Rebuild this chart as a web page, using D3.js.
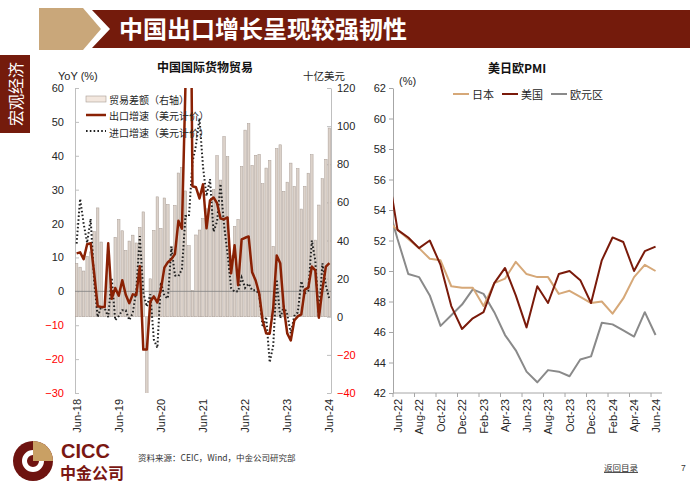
<!DOCTYPE html>
<html><head><meta charset="utf-8">
<script src="https://cdn.jsdelivr.net/npm/d3@7"></script>
<style>
body{margin:0;background:#fff;}
svg{display:block;font-family:"Liberation Sans","Noto Sans CJK SC",Arial,sans-serif;}
</style></head><body><svg id="c" width="700" height="490"></svg>
<script>
// ---------------- DATA ----------------
const headerTitle = "中国出口增长呈现较强韧性";
const sideLabel = "宏观经济";
const leftTitle = "中国国际货物贸易";
const rightTitle = "美日欧PMI";
const tradeMonths = d3.timeMonth.range(new Date(2018,5,1), new Date(2024,6,1)).map(d3.timeFormat("%b-%y"));
const tradeTickLabels = ["Jun-18","Jun-19","Jun-20","Jun-21","Jun-22","Jun-23","Jun-24"];
const leftTicks = [-30,-20,-10,0,10,20,30,40,50,60];
const rightTicks = [-40,-20,0,20,40,60,80,100,120];
// trade balance, USD bn (right axis)
const tradeBalance = [
  28.0, 26.0, 24.0, 31.7, 34.0, 44.7, 57.1,
  39.2, 4.1, 32.7, 13.8, 41.7, 51.0, 45.1, 34.8, 39.7, 42.8, 38.7, 46.8,
  55.0, -62.0, 19.9, 45.3, 62.9, 46.4, 62.3, 58.9, 37.0, 58.4, 75.4, 78.2,
  66.0, 37.3, 13.8, 42.9, 45.5, 51.5, 56.6, 58.3, 66.8, 84.5, 71.7, 94.5,
  84.0, 31.9, 47.4, 51.1, 78.8, 97.9, 101.3, 79.4, 84.7, 85.2, 69.8, 78.0,
  82.0, 36.9, 88.2, 90.2, 65.8, 70.6, 80.6, 68.4, 77.7, 56.5, 68.4, 75.3,
  85.0, 40.2, 58.6, 72.4, 82.6, 99.0
];
// export growth YoY %
const exportYoY = [
  11.2, 11.5, 9.5, 13.9, 14.2, 5.4, -4.4,
  -4.6, -4.6, 14.2, -2.2, 1.0, -1.3, 3.3, -1.0, -3.5, -0.9, -1.1, 7.4,
  -17.2, -17.2, -3.0, -1.5, -3.3, 0.5, 7.0, 8.6, 9.5, 11.0, 20.8, 18.5,
  60.6, 154.9, 31.0, 30.7, 27.4, 31.6, 18.6, 26.8, 27.7, 26.0, 21.5, 21.3,
  21.8, 5.3, 13.6, 1.8, 15.3, 15.8, 16.2, 5.6, 3.2, -0.6, -8.6, -12.4,
  -12.5, -5.0, 10.6, 8.3, -4.8, -12.4, -14.5, -8.6, -7.4, -6.8, 0.5, 1.1,
  7.3, 6.2, -7.8, 0.5, 7.3, 8.3
];
// import growth YoY %
const importYoY = [
  14.1, 27.3, 20.0, 14.3, 21.4, 3.0, -7.6,
  -4.5, -5.0, -7.6, 4.0, -8.5, -7.3, -5.6, -5.6, -8.5, -6.4, 0.3, 16.3,
  -0.5, -4.5, -0.9, -14.2, -16.7, 2.7, -1.4, -2.1, 13.2, 4.7, 4.5, 6.5,
  22.2, 22.2, 38.1, 43.1, 51.1, 36.7, 28.1, 33.1, 17.6, 20.6, 31.7, 19.5,
  11.0, 1.0, -0.1, 0.0, 4.1, 1.0, 2.3, 0.3, 0.3, -0.7, -10.6, -7.5,
  -21.0, -16.0, 3.5, -7.9, -4.5, -6.8, -12.4, -7.3, -6.2, 3.0, -0.6, 0.2,
  15.0, 9.0, -7.7, 8.3, 1.8, -2.3
];
const tradeLegend = ["贸易差额（右轴）","出口增速（美元计价）","进口增速（美元计价）"];

// PMI, May-22 .. Jun-24
const pmiMonths = d3.timeMonth.range(new Date(2022,4,1), new Date(2024,6,1)).map(d3.timeFormat("%b-%y"));
const pmiTickLabels = ["Jun-22","Aug-22","Oct-22","Dec-22","Feb-23","Apr-23","Jun-23","Aug-23","Oct-23","Dec-23","Feb-24","Apr-24","Jun-24"];
const pmiYTicks = [42,44,46,48,50,52,54,56,58,60,62];
const japanPMI = [53.3, 52.7, 52.1, 51.5, 50.8, 50.7, 49.0, 48.9, 48.9, 47.7, 49.2, 49.5, 50.6, 49.8, 49.6, 49.6, 48.5, 48.7, 48.3, 47.9, 48.0, 47.2, 48.2, 49.6, 50.4, 50.0];
const usPMI    = [57.0, 52.7, 52.2, 51.5, 52.0, 50.4, 47.7, 46.2, 46.9, 47.3, 49.2, 50.2, 48.4, 46.3, 49.0, 47.9, 49.8, 50.0, 49.4, 47.9, 50.7, 52.2, 51.9, 50.0, 51.3, 51.6];
const euroPMI  = [54.6, 52.1, 49.8, 49.6, 48.4, 46.4, 47.1, 47.8, 48.8, 48.5, 47.3, 45.8, 44.8, 43.4, 42.7, 43.5, 43.4, 43.1, 44.2, 44.4, 46.6, 46.5, 46.1, 45.7, 47.3, 45.8];
const pmiSeriesNames = ["日本","美国","欧元区"];

// ---------------- STYLE ----------------
const RED = "#741b0c", TAN = "#c9a77a";
const CN = "'Noto Sans CJK SC','Liberation Sans',sans-serif";
const svg = d3.select("#c");

// header
svg.append("polygon").attr("points","39,8 83,8 101,29 83,50 39,50").attr("fill",TAN);
svg.append("polygon").attr("points","92,10 690,10 690,48 92,48 110,29").attr("fill",RED);
svg.append("text").attr("x",119).attr("y",38).attr("fill","#fff").attr("font-family",CN)
  .attr("font-size",24).attr("font-weight","bold").text(headerTitle);
// side label
svg.append("rect").attr("x",0).attr("y",55).attr("width",30).attr("height",78).attr("fill",RED);
svg.append("text").attr("transform","translate(15,94) rotate(-90)").attr("text-anchor","middle")
  .attr("dominant-baseline","central").attr("fill","#fff").attr("font-family",CN).attr("font-size",16)
  .text(sideLabel);

// ---------------- LEFT CHART ----------------
const L = {x0:75, x1:331, y0:88, y1:393};
const xB = d3.scaleBand().domain(tradeMonths).range([L.x0, L.x1]).paddingInner(0.28).paddingOuter(0.1);
const yL = d3.scaleLinear().domain([-30,60]).range([L.y1, L.y0]);
const yR = d3.scaleLinear().domain([-40,120]).range([L.y1, L.y0]);
const cx = m => xB(m) + xB.bandwidth()/2;

svg.append("defs").append("clipPath").attr("id","clipL").append("rect")
  .attr("x",L.x0).attr("y",L.y0).attr("width",L.x1-L.x0).attr("height",L.y1-L.y0);
const gL = svg.append("g");

// axes
const axL = gL.append("g").attr("transform",`translate(${L.x0},0)`)
  .call(d3.axisLeft(yL).tickValues(leftTicks).tickSize(-4).tickSizeOuter(0).tickPadding(11));
const axR = gL.append("g").attr("transform",`translate(${L.x1},0)`)
  .call(d3.axisRight(yR).tickValues(rightTicks).tickSize(-4).tickSizeOuter(0).tickPadding(6));
[axL, axR].forEach(a => {
  a.select(".domain").attr("stroke","#bfbfbf");
  a.selectAll(".tick line").attr("stroke","#bfbfbf");
  a.selectAll(".tick text").attr("font-size",11).attr("font-family","Liberation Sans")
    .attr("fill", d => d < 0 ? "#ff0000" : "#262626");
});

// x labels
gL.selectAll(".xl").data(tradeTickLabels).join("text")
  .attr("transform", d => `translate(${cx(d)},399) rotate(-90)`)
  .attr("text-anchor","end").attr("dominant-baseline","central")
  .attr("font-size",11).attr("fill","#262626").text(d => d);

// titles
svg.append("text").attr("x",205).attr("y",72).attr("text-anchor","middle").attr("font-family",CN)
  .attr("font-size",12).attr("font-weight","bold").attr("fill","#111").text(leftTitle);
svg.append("text").attr("x",58).attr("y",80).attr("font-size",11).attr("fill","#262626").text("YoY (%)");
svg.append("text").attr("x",303).attr("y",80).attr("font-family",CN).attr("font-size",10.5).attr("fill","#262626").text("十亿美元");

// bars
const plotL = gL.append("g").attr("clip-path","url(#clipL)");
plotL.selectAll("rect.bar").data(tradeMonths).join("rect").attr("class","bar")
  .attr("x", m => xB(m)).attr("width", xB.bandwidth())
  .attr("y", (m,i) => yR(Math.max(0, tradeBalance[i])))
  .attr("height", (m,i) => Math.abs(yR(tradeBalance[i]) - yR(0)))
  .attr("fill","#dcd2ca").attr("stroke","#a99d95").attr("stroke-width",0.5);
// zero line
plotL.append("line").attr("x1",L.x0).attr("x2",L.x1).attr("y1",yL(0)).attr("y2",yL(0))
  .attr("stroke","#808080").attr("stroke-width",0.8);

// legend (under lines)
const lg = svg.append("g").attr("font-family",CN).attr("font-size",10).attr("fill","#262626");
lg.append("rect").attr("x",86).attr("y",96).attr("width",20).attr("height",6)
  .attr("fill","#f3e7de").attr("stroke","#a99d95").attr("stroke-width",0.6);
lg.append("line").attr("x1",86).attr("x2",106).attr("y1",115).attr("y2",115).attr("stroke","#8a2104").attr("stroke-width",2.5);
lg.append("line").attr("x1",86).attr("x2",106).attr("y1",131).attr("y2",131).attr("stroke","#222")
  .attr("stroke-width",2).attr("stroke-dasharray","1.6,2.2");
tradeLegend.forEach((t,i) => lg.append("text").attr("x",109).attr("y",99+i*16.5)
  .attr("dominant-baseline","central").text(t));

// lines
const lineL = vals => d3.line().x((m,i)=>cx(m)).y((m,i)=>yL(vals[i]))(tradeMonths);
plotL.append("path").attr("d", lineL(importYoY)).attr("fill","none").attr("stroke","#222")
  .attr("stroke-width",2).attr("stroke-dasharray","1.6,2.2");
plotL.append("path").attr("d", lineL(exportYoY)).attr("fill","none").attr("stroke","#8a2104")
  .attr("stroke-width",2.5).attr("stroke-linejoin","round");

// ---------------- RIGHT CHART ----------------
const R = {x0:393, x1:662, y0:88, y1:393};
const xP = d3.scaleLinear().domain([0.58, 25.6]).range([R.x0, R.x1]);
const yP = d3.scaleLinear().domain([42,62]).range([R.y1, R.y0]);
const idx = m => pmiMonths.indexOf(m);

svg.select("defs").append("clipPath").attr("id","clipR").append("rect")
  .attr("x",R.x0).attr("y",R.y0-2).attr("width",R.x1-R.x0).attr("height",R.y1-R.y0+2);
const gR = svg.append("g");
const axP = gR.append("g").attr("transform",`translate(${R.x0},0)`)
  .call(d3.axisLeft(yP).tickValues(pmiYTicks).tickSize(4).tickSizeOuter(0).tickPadding(3));
axP.select(".domain").attr("stroke","#a6a6a6");
axP.selectAll(".tick line").attr("stroke","#a6a6a6");
axP.selectAll(".tick text").attr("font-size",11).attr("font-family","Liberation Sans").attr("fill","#262626");
gR.append("line").attr("x1",R.x0).attr("x2",R.x1).attr("y1",R.y1).attr("y2",R.y1).attr("stroke","#a6a6a6");
gR.selectAll(".pt").data(pmiTickLabels).join("line")
  .attr("x1", d => xP(idx(d) - 0.42)).attr("x2", d => xP(idx(d) - 0.42))
  .attr("y1",R.y1).attr("y2",R.y1+4).attr("stroke","#a6a6a6");
gR.selectAll(".pl").data(pmiTickLabels).join("text")
  .attr("transform", d => `translate(${xP(idx(d))},399) rotate(-90)`)
  .attr("text-anchor","end").attr("dominant-baseline","central")
  .attr("font-size",11).attr("fill","#262626").text(d => d);

svg.append("text").attr("x",517).attr("y",73).attr("text-anchor","middle").attr("font-family",CN)
  .attr("font-size",12).attr("font-weight","bold").attr("fill","#111").text(rightTitle);
svg.append("text").attr("x",399).attr("y",85).attr("font-size",11).attr("fill","#262626").text("(%)");

const pmiColors = ["#d6a878","#7a1a0a","#8a8a8a"];
const pmiData = [japanPMI, usPMI, euroPMI];
const plotR = gR.append("g").attr("clip-path","url(#clipR)");
const lineP = vals => d3.line().x((m,i)=>xP(i)).y((m,i)=>yP(vals[i]))(pmiMonths);
[2,0,1].forEach(k => plotR.append("path").attr("d", lineP(pmiData[k])).attr("fill","none")
  .attr("stroke", pmiColors[k]).attr("stroke-width",2).attr("stroke-linejoin","round"));

// legend
const legX = [453, 502, 551];
pmiSeriesNames.forEach((n,k) => {
  svg.append("line").attr("x1",legX[k]).attr("x2",legX[k]+16).attr("y1",94).attr("y2",94)
    .attr("stroke",pmiColors[k]).attr("stroke-width",2);
  svg.append("text").attr("x",legX[k]+19).attr("y",94).attr("dominant-baseline","central")
    .attr("font-family",CN).attr("font-size",11).attr("fill","#262626").text(n);
});

// ---------------- FOOTER ----------------
const logo = svg.append("g").attr("transform","translate(33,461)");
logo.append("circle").attr("r",20).attr("fill","#6e1310");
logo.append("path").attr("d", d3.arc()({innerRadius:0, outerRadius:20, startAngle:0, endAngle:Math.PI/2})).attr("fill","#c9a064");
logo.append("path").attr("d", d3.arc()({innerRadius:6, outerRadius:11, startAngle:Math.PI/2, endAngle:2*Math.PI})).attr("fill","#fff");
svg.append("text").attr("x",61).attr("y",458).attr("font-size",20).attr("font-weight","bold")
  .attr("fill","#7a1712").text("CICC");
svg.append("text").attr("x",60).attr("y",479).attr("font-family",CN).attr("font-size",16).attr("font-weight","bold")
  .attr("fill","#7a1712").text("中金公司");
svg.append("text").attr("x",138).attr("y",461).attr("font-family",CN).attr("font-size",8.5)
  .attr("fill","#333").text("资料来源：CEIC，Wind，中金公司研究部");
svg.append("text").attr("x",604).attr("y",471).attr("font-family",CN).attr("font-size",8.5)
  .attr("fill","#333").attr("text-decoration","underline").text("返回目录");
svg.append("text").attr("x",681).attr("y",471).attr("font-size",8.5).attr("fill","#333").text("7");
</script></body></html>
